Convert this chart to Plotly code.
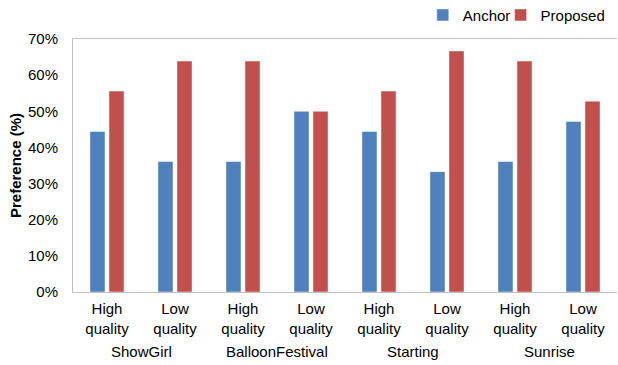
import plotly.graph_objects as go

# Preference results per sequence and quality level
sequences = ["ShowGirl", "BalloonFestival", "Starting", "Sunrise"]
qualities = ["High<br>quality", "Low<br>quality"]
anchor = [44.4, 36.1, 36.1, 50.0, 44.4, 33.3, 36.1, 47.2]
proposed = [55.6, 63.9, 63.9, 50.0, 55.6, 66.7, 63.9, 52.8]
y_ticks = [0, 10, 20, 30, 40, 50, 60, 70]

categories = [f"{s}|{q}" for s in sequences for q in qualities]
tick_text = [q for s in sequences for q in qualities]

FONT = "Liberation Sans, Arial, sans-serif"
AXIS_GREY = "#BFBFBF"
FS = 15

fig = go.Figure()
fig.add_trace(go.Bar(
    name="Anchor", x=categories, y=anchor, legend="legend",
    marker=dict(color="#4F81BD", line=dict(color="rgba(255,255,255,0.45)", width=1)),
))
fig.add_trace(go.Bar(
    name="Proposed", x=categories, y=proposed, legend="legend2",
    marker=dict(color="#C0504D", line=dict(color="rgba(255,255,255,0.45)", width=1)),
))

# Sequence names centred under each pair of quality levels
for i, s in enumerate(sequences):
    fig.add_annotation(
        x=2 * i + 0.5, y=-0.237, xref="x", yref="paper",
        text=s, showarrow=False, yanchor="middle",
        font=dict(family=FONT, size=FS, color="#000000"),
    )

legend_style = dict(
    orientation="h", xanchor="left", y=1.094, yanchor="middle",
    font=dict(family=FONT, size=FS), itemwidth=30,
    bgcolor="rgba(0,0,0,0)",
)

fig.update_layout(
    width=618, height=365,
    margin=dict(l=73, r=1, t=39, b=73, autoexpand=False),
    paper_bgcolor="white", plot_bgcolor="white",
    barmode="group", bargap=0.44, bargroupgap=0.21,
    font=dict(family=FONT, size=FS, color="#000000"),
    legend=dict(x=0.643, **legend_style),
    legend2=dict(x=0.786, **legend_style),
    showlegend=True,
)
fig.update_xaxes(
    type="category", tickvals=categories, ticktext=tick_text,
    showline=True, linecolor=AXIS_GREY, linewidth=1, mirror=True,
    showgrid=False, ticks="", tickangle=0, ticklabelstandoff=3,
    range=[-0.5, 7.5], automargin=False,
)
fig.update_yaxes(
    range=[0, 70], tickvals=y_ticks, ticktext=[f"{v}%" for v in y_ticks],
    showline=True, linecolor=AXIS_GREY, linewidth=1,
    showgrid=False, ticks="", zeroline=False, ticklabelstandoff=11,
    automargin=False,
    title=dict(text="<b>Preference (%)</b>", font=dict(family=FONT, size=FS), standoff=2),
)

fig.write_html("out.html")
